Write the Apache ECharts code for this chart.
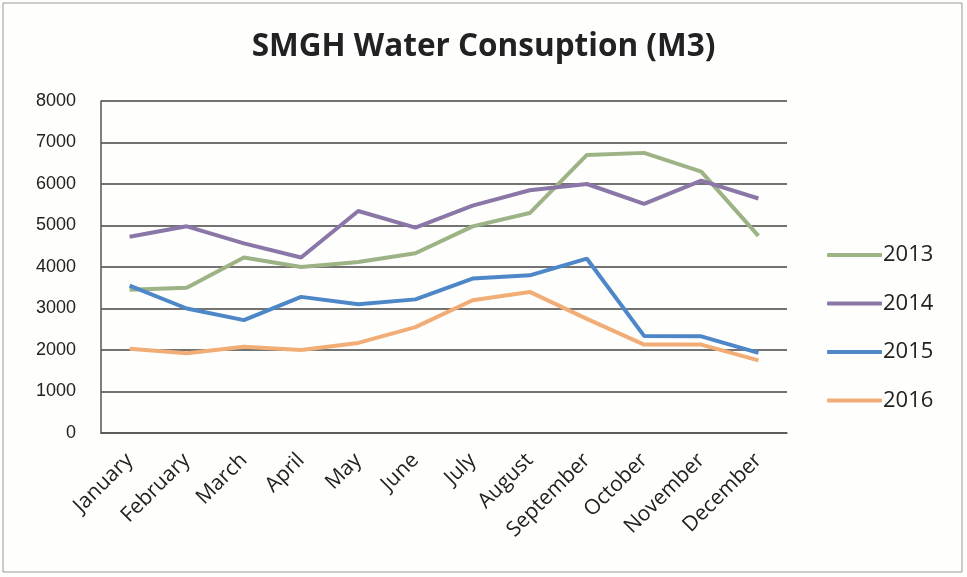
<!DOCTYPE html>
<html>
<head>
<meta charset="utf-8">
<script src="https://cdn.jsdelivr.net/npm/echarts@6/dist/echarts.min.js"></script>
<style>
  html, body { margin: 0; padding: 0; background: #fff; }
  #chart { width: 967px; height: 577px; }
</style>
</head>
<body>
<div id="chart"></div>
<script>
const months = ['January', 'February', 'March', 'April', 'May', 'June',
  'July', 'August', 'September', 'October', 'November', 'December'];
const y2013 = [3450, 3500, 4230, 4000, 4120, 4330, 4980, 5300, 6700, 6750, 6300, 4750];
const y2014 = [4730, 4980, 4570, 4230, 5350, 4950, 5480, 5850, 6000, 5520, 6080, 5650];
const y2015 = [3550, 3000, 2720, 3280, 3100, 3220, 3720, 3800, 4200, 2340, 2330, 1930];
const y2016 = [2030, 1920, 2080, 2000, 2170, 2550, 3200, 3400, 2750, 2130, 2130, 1750];

const seriesDefs = [
  { name: '2013', data: y2013, color: '#9db385' },
  { name: '2014', data: y2014, color: '#8a77a8' },
  { name: '2015', data: y2015, color: '#4d87c7' },
  { name: '2016', data: y2016, color: '#f2ad76' },
];

const chart = echarts.init(document.getElementById('chart'), null, { renderer: 'canvas' });

chart.setOption({
  backgroundColor: '#fefefc',
  animation: false,
  title: {
    text: 'SMGH Water Consuption (M3)',
    left: 'center',
    top: 26,
    textStyle: { fontFamily: 'Open Sans', fontWeight: 'bold', fontSize: 31.5, color: '#222' },
  },
  graphic: [{
    type: 'rect',
    shape: { x: 3, y: 3, width: 959, height: 569 },
    style: { fill: 'none', stroke: '#999', lineWidth: 1 },
  }],
  legend: {
    orient: 'vertical',
    left: 822,
    top: 239,
    itemWidth: 55,
    itemHeight: 4,
    itemGap: 26.5,
    icon: 'roundRect',
    textStyle: { fontFamily: 'Open Sans', fontSize: 22, color: '#222', padding: [0, 0, 0, -4] },
    data: seriesDefs.map((s) => s.name),
  },
  grid: { left: 101, right: 180, top: 101, bottom: 144 },
  xAxis: {
    type: 'category',
    data: months,
    boundaryGap: true,
    axisLine: { lineStyle: { color: '#555', width: 1.5 } },
    axisTick: { show: false },
    axisLabel: {
      rotate: 45,
      margin: 24,
      interval: 0,
      fontFamily: 'Open Sans',
      fontSize: 21,
      color: '#222',
    },
  },
  yAxis: {
    type: 'value',
    min: 0,
    max: 8000,
    interval: 1000,
    axisLine: { show: true, lineStyle: { color: '#555', width: 1.5 } },
    axisTick: { show: false },
    axisLabel: {
      fontFamily: 'Liberation Sans',
      fontSize: 18,
      color: '#222',
      margin: 25,
      formatter: (v) => String(v),
    },
    splitLine: { lineStyle: { color: '#444', width: 1.5 } },
  },
  series: seriesDefs.map((s) => ({
    name: s.name,
    type: 'line',
    data: s.data,
    symbol: 'none',
    color: s.color,
    lineStyle: { width: 4, color: s.color },
  })),
});
</script>
</body>
</html>
